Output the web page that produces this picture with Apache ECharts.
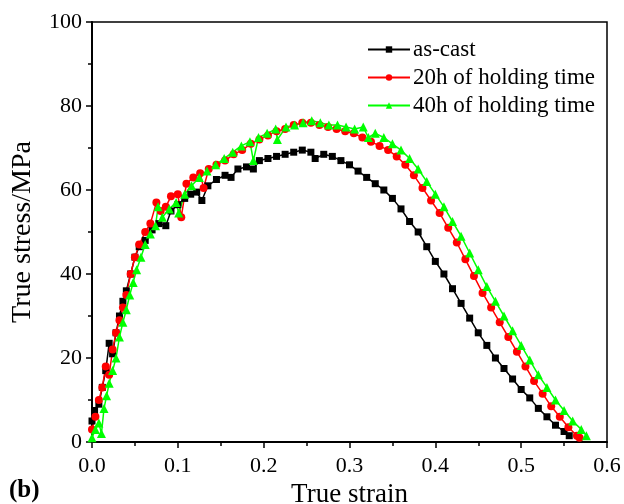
<!DOCTYPE html>
<html>
<head>
<meta charset="utf-8">
<script src="https://cdn.jsdelivr.net/npm/echarts@6/dist/echarts.min.js"></script>
<style>
  html, body { margin: 0; padding: 0; background: #fff; }
  #chart { width: 624px; height: 504px; }
</style>
</head>
<body>
<div id="chart"></div>
<script>
// [true strain, true stress (MPa)]
const asCast = [
  [0.000, 5], [0.003, 7.5], [0.008, 9], [0.012, 13], [0.016, 17], [0.020, 23.5], [0.024, 21],
  [0.028, 26], [0.032, 30], [0.036, 33.5], [0.040, 36], [0.045, 40], [0.050, 44], [0.055, 46.5],
  [0.062, 48], [0.070, 50.5], [0.078, 52], [0.086, 51.5], [0.092, 55], [0.100, 56.5], [0.108, 58],
  [0.115, 59], [0.122, 59.5], [0.128, 57.5], [0.135, 61], [0.145, 62.5], [0.155, 63.5], [0.162, 63],
  [0.170, 65], [0.180, 65.5], [0.188, 65], [0.195, 67], [0.205, 67.5], [0.215, 68], [0.225, 68.5],
  [0.235, 69], [0.245, 69.5], [0.255, 69], [0.260, 67.5], [0.270, 68.5], [0.280, 68], [0.290, 67],
  [0.300, 66], [0.310, 64.5], [0.320, 63], [0.330, 61.5], [0.340, 60], [0.350, 58], [0.360, 55.5],
  [0.370, 52.5], [0.380, 50], [0.390, 46.5], [0.400, 43], [0.410, 40], [0.420, 36.5], [0.430, 33],
  [0.440, 29.5], [0.450, 26], [0.460, 23], [0.470, 20], [0.480, 17.5], [0.490, 15], [0.500, 12.5],
  [0.510, 10.5], [0.520, 8], [0.530, 6], [0.540, 4], [0.550, 2.5], [0.556, 1.5]
];
const hold20h = [
  [0.000, 3], [0.004, 6], [0.008, 10], [0.012, 13], [0.016, 18], [0.020, 16], [0.024, 22],
  [0.028, 26], [0.032, 29], [0.036, 32], [0.040, 35], [0.045, 40], [0.050, 44], [0.055, 47],
  [0.062, 50], [0.068, 52], [0.075, 57], [0.080, 55], [0.086, 56], [0.092, 58.5], [0.100, 59],
  [0.104, 53.5], [0.110, 61.5], [0.118, 63], [0.126, 64], [0.130, 60.5], [0.136, 65], [0.145, 66],
  [0.155, 67], [0.165, 68.5], [0.175, 69.5], [0.185, 71], [0.195, 72], [0.205, 73], [0.215, 74],
  [0.225, 74.5], [0.235, 75.5], [0.245, 76], [0.255, 76], [0.265, 75.5], [0.275, 75], [0.285, 74.5],
  [0.295, 74], [0.305, 73.5], [0.315, 72.5], [0.325, 71.5], [0.335, 70.5], [0.345, 69.5], [0.355, 68],
  [0.365, 66], [0.375, 63.5], [0.385, 60.5], [0.395, 57.5], [0.405, 54.5], [0.415, 51], [0.425, 47.5],
  [0.435, 43.5], [0.445, 39.5], [0.455, 35.5], [0.465, 32], [0.475, 28.5], [0.485, 25], [0.495, 21.5],
  [0.505, 18], [0.515, 14.5], [0.525, 11.5], [0.535, 8.5], [0.545, 6], [0.555, 3.5], [0.565, 1.5],
  [0.568, 1]
];
const hold40h = [
  [0.000, 1], [0.004, 3], [0.008, 4.5], [0.011, 2], [0.014, 8], [0.017, 11], [0.020, 14],
  [0.024, 17], [0.028, 20], [0.032, 25], [0.036, 28.5], [0.040, 31.5], [0.044, 35], [0.048, 38],
  [0.052, 41], [0.057, 44], [0.062, 47], [0.068, 49.5], [0.074, 51.5], [0.077, 56], [0.082, 53.5],
  [0.090, 55.5], [0.098, 57], [0.101, 54.5], [0.108, 59], [0.116, 61], [0.125, 63], [0.134, 64.5],
  [0.144, 66], [0.154, 67.5], [0.164, 69], [0.174, 70.5], [0.184, 71.5], [0.188, 67], [0.194, 72.5],
  [0.204, 73.5], [0.214, 74.5], [0.216, 72], [0.226, 75], [0.236, 75.5], [0.246, 76], [0.256, 76.5],
  [0.266, 76], [0.276, 75.5], [0.286, 75.5], [0.296, 75], [0.306, 74.5], [0.316, 75], [0.322, 72.5],
  [0.330, 73.5], [0.340, 72.5], [0.350, 71], [0.360, 69.5], [0.370, 67.5], [0.380, 65], [0.390, 62],
  [0.400, 59], [0.410, 56], [0.420, 52.5], [0.430, 49], [0.440, 45], [0.450, 41], [0.460, 37],
  [0.470, 33.5], [0.480, 30], [0.490, 26.5], [0.500, 23], [0.510, 19.5], [0.520, 16], [0.530, 13],
  [0.540, 10], [0.550, 7.5], [0.560, 5], [0.570, 3], [0.576, 1.5]
];
const seriesNames = ["as-cast", "20h of holding time", "40h of holding time"];
const xTicks = [0, 0.1, 0.2, 0.3, 0.4, 0.5, 0.6];
const yTicks = [0, 20, 40, 60, 80, 100];

let chart = echarts.init(document.getElementById("chart"));
const font = "Liberation Serif";

function mkSeries(name, data, color, symbol, size) {
    return {
        name: name,
        type: "line",
        data: data,
        symbol: symbol,
        symbolSize: size,
        showAllSymbol: true,
        lineStyle: { color: color, width: 1.5 },
        itemStyle: { color: color },
        animation: false
    };
}

let option = {
    backgroundColor: "#fff",
    textStyle: { fontFamily: font },
    grid: {
        left: 92, right: 17, top: 22, bottom: 62,
        outerBoundsMode: "none",
        show: true, borderColor: "#000", borderWidth: 1.5
    },
    legend: {
        orient: "vertical",
        left: 362, top: 33,
        itemWidth: 42, itemHeight: 8, itemGap: 5,
        textStyle: { fontFamily: font, fontSize: 23, color: "#000", padding: [0, 0, 0, -2] },
        data: seriesNames
    },
    xAxis: {
        type: "value",
        min: xTicks[0], max: xTicks[xTicks.length - 1], interval: 0.1,
        name: "True strain",
        nameLocation: "middle", nameGap: 38,
        nameTextStyle: { fontFamily: font, fontSize: 27, color: "#000" },
        axisLine: { lineStyle: { color: "#000", width: 2 } },
        axisTick: { length: 6, lineStyle: { width: 1.5 } },
        minorTick: { show: true, splitNumber: 2, length: 4, lineStyle: { color: "#000", width: 1.5 } },
        splitLine: { show: false },
        axisLabel: {
            fontFamily: font, fontSize: 22, color: "#000", margin: 13,
            formatter: v => v.toFixed(1)
        }
    },
    yAxis: {
        type: "value",
        min: yTicks[0], max: yTicks[yTicks.length - 1], interval: 20,
        name: "True stress/MPa",
        nameLocation: "middle", nameGap: 55,
        nameTextStyle: { fontFamily: font, fontSize: 28, color: "#000" },
        axisLine: { show: true, lineStyle: { color: "#000", width: 2 } },
        axisTick: { show: true, length: 6, lineStyle: { width: 1.5 } },
        minorTick: { show: true, splitNumber: 2, length: 4, lineStyle: { color: "#000", width: 1.5 } },
        splitLine: { show: false },
        axisLabel: { fontFamily: font, fontSize: 22, color: "#000", margin: 10 }
    },
    graphic: [{
        type: "text", left: 9, top: 478,
        style: { text: "(b)", font: "bold 25px 'Liberation Serif'", fill: "#000" }
    }],
    series: [
        mkSeries(seriesNames[0], asCast, "#000000", "rect", 7),
        mkSeries(seriesNames[1], hold20h, "#ff0000", "circle", 8),
        mkSeries(seriesNames[2], hold40h, "#00ff00", "triangle", 9)
    ]
};
chart.setOption(option);
</script>
</body>
</html>
